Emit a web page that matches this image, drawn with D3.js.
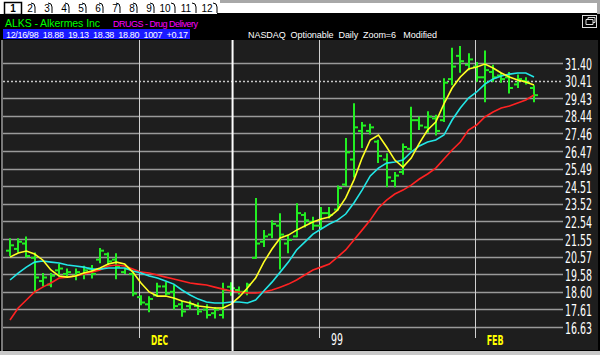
<!DOCTYPE html>
<html>
<head>
<meta charset="utf-8">
<script src="https://cdn.jsdelivr.net/npm/d3@7"></script>
<style>
body { margin: 0; background: #000; }
svg { display: block; font-family: "Liberation Sans", Arial, sans-serif; }
.narrow { font-family: "Liberation Sans Narrow", "DejaVu Sans Condensed", "Arial Narrow", sans-serif; }
</style>
</head>
<body>
<svg id="chart" width="600" height="355"></svg>
<script>
var tabs = ["1", "2", "3", "4", "5", "6", "7", "8", "9", "10", "11", "12"];

var symbolText = "ALKS - Alkermes Inc";
var groupText = "DRUGS - Drug Delivery";
var quoteText = "12/16/98  18.88  19.13  18.38  18.80  1007  +0.17";
var infoText = "NASDAQ  Optionable  Daily  Zoom=6   Modified";

var priceTicks = [31.40, 30.41, 29.43, 28.44, 27.46, 26.47, 25.49, 24.51, 23.52,
    22.54, 21.55, 20.57, 19.58, 18.60, 17.61, 16.63];

// daily bars, Nov 98 .. Feb 99
var opens = [20.9, 21.0, 21.3, 20.5, 19.2, 19.0, 19.8, 19.6, 19.5, 19.6, 19.9, 20.4, 20.7, 20.4, 19.7, 19.6,
    18.3, 17.9, 18.4, 18.9, 18.6, 17.9, 17.8, 17.8, 17.6, 17.4, 17.3, 18.88, 18.7, 18.6, 20.5, 21.4,
    21.8, 22.3, 21.3, 21.7, 22.9, 22.5, 22.3, 23.0, 23.2, 24.6, 26.0, 27.6, 27.6, 27.0, 26.0, 24.8,
    25.3, 26.6, 28.2, 27.8, 28.3, 28.2, 30.5, 31.8, 31.3, 31.2, 30.6, 30.9, 30.7, 30.6, 30.2, 30.4, 30.0];
var highs = [21.6, 21.6, 21.7, 20.8, 19.65, 19.65, 20.15, 19.9, 19.9, 20.05, 20.1, 21.05, 20.8, 20.75, 19.95, 19.7,
    18.4, 18.35, 19.1, 19.15, 19.0, 18.1, 18.1, 18.0, 17.9, 17.75, 19.1, 19.13, 18.9, 19.1, 23.85, 22.05,
    22.6, 23.0, 21.75, 23.55, 23.05, 22.8, 23.35, 23.35, 24.55, 27.2, 29.15, 28.1, 28.0, 27.1, 26.35, 25.3,
    26.9, 28.95, 28.4, 28.7, 28.5, 30.55, 32.25, 32.35, 31.95, 31.45, 32.1, 31.3, 30.85, 30.9, 30.75, 30.6, 30.15];
var lows = [20.6, 20.8, 20.5, 18.55, 18.9, 18.85, 19.45, 19.45, 19.25, 19.3, 19.35, 20.2, 20.1, 19.3, 19.6, 18.35,
    17.85, 17.45, 18.35, 18.4, 17.6, 17.2, 17.6, 17.3, 17.1, 17.1, 17.1, 18.38, 18.45, 18.4, 20.45, 21.1,
    21.6, 19.85, 20.75, 21.65, 22.2, 22.05, 22.15, 22.7, 23.15, 24.5, 25.0, 26.65, 27.4, 25.8, 24.45, 24.45,
    25.15, 26.5, 27.65, 27.5, 27.35, 28.1, 30.15, 30.85, 31.0, 30.35, 29.2, 30.35, 30.3, 29.7, 30.0, 30.2, 29.2];
var closes = [21.2, 21.4, 20.6, 19.4, 19.4, 19.5, 19.9, 19.7, 19.7, 19.8, 19.6, 20.9, 20.3, 20.0, 19.9, 18.5,
    18.0, 18.2, 18.9, 18.5, 17.8, 17.5, 17.9, 17.5, 17.3, 17.6, 18.7, 18.80, 18.6, 19.0, 21.3, 21.7,
    22.4, 21.8, 21.5, 23.0, 22.6, 22.3, 23.0, 22.9, 24.4, 26.4, 27.8, 27.9, 27.8, 26.2, 25.0, 25.1,
    26.7, 28.2, 27.9, 28.4, 27.6, 30.3, 31.2, 31.5, 31.6, 30.6, 31.0, 30.6, 30.5, 30.0, 30.5, 30.3, 29.6];

// moving averages
var maYellow = [20.54, 20.77, 20.88, 20.71, 20.38, 19.82, 19.48, 19.42, 19.48, 19.65, 19.76, 19.93, 20.15, 20.26, 20.15, 19.70,
    19.09, 18.59, 18.36, 18.36, 18.25, 18.08, 17.97, 17.80, 17.75, 17.69, 17.69, 17.91, 18.31, 18.81, 19.37, 20.26,
    20.99, 21.61, 21.77, 22.05, 22.28, 22.50, 22.67, 22.78, 23.17, 23.85, 24.85, 26.08, 27.09, 27.37, 26.70, 25.97,
    25.58, 26.08, 26.92, 27.65, 28.10, 29.11, 30.00, 30.62, 31.06, 31.18, 31.34, 31.12, 30.84, 30.62, 30.45, 30.34, 30.17];
var maCyan = [19.26, 19.65, 19.98, 20.26, 20.32, 20.26, 20.21, 20.10, 20.04, 19.98, 19.87, 19.87, 19.93, 19.93, 19.93, 19.76,
    19.65, 19.48, 19.37, 19.20, 19.03, 18.70, 18.42, 18.19, 18.03, 17.97, 17.97, 18.03, 18.03, 17.97, 18.14, 18.64,
    19.14, 19.70, 20.26, 20.94, 21.38, 21.83, 22.11, 22.39, 22.61, 22.95, 23.57, 24.29, 25.08, 25.52, 25.80, 25.86,
    25.97, 26.42, 26.76, 26.98, 27.09, 27.37, 28.21, 28.88, 29.44, 29.78, 30.22, 30.50, 30.67, 30.78, 30.84, 30.84, 30.62];
var maRed = [17.02, 17.69, 18.14, 18.59, 18.86, 19.09, 19.37, 19.42, 19.48, 19.59, 19.70, 19.82, 20.04, 20.10, 20.04, 19.87,
    19.70, 19.65, 19.54, 19.42, 19.31, 19.20, 19.09, 19.03, 18.98, 18.86, 18.75, 18.64, 18.59, 18.53, 18.53, 18.59,
    18.70, 18.86, 19.03, 19.26, 19.54, 19.82, 19.98, 20.15, 20.54, 20.94, 21.50, 22.05, 22.61, 23.29, 23.73, 24.07,
    24.29, 24.57, 24.91, 25.19, 25.52, 26.03, 26.53, 26.98, 27.65, 27.93, 28.38, 28.66, 28.88, 28.99, 29.16, 29.33, 29.61];

var monthLabels = ["DEC", "99", "FEB"];
var monthStart = [16, 38, 57];
var cursorIdx = 27;

var svg = d3.select("#chart");

var x = d3.scaleLinear().domain([0, opens.length - 1]).range([10, 534]);
var y = d3.scaleLinear().domain([16.63, 31.40]).range([327, 63]);

drawTabs();
drawHeader();
drawChart();

function drawTabs() {
    svg.append("rect").attr("width", 600).attr("height", 14).attr("fill", "#fff");
    svg.append("rect").attr("x", 220).attr("y", 0).attr("width", 377).attr("height", 3).attr("fill", "#a8a8a8");
    svg.append("rect").attr("x", 597).attr("y", 0).attr("width", 3).attr("height", 14).attr("fill", "#a8a8a8");

    var sep = 18;
    tabs.forEach(function(t, i) {
        if (i > 0) sep += (t.length == 1 ? 17 : 21);
        var cx = i == 0 ? 13 : sep - (t.length == 1 ? 5 : 10);
        if (i == 0) {
            svg.append("rect").attr("x", 4.5).attr("y", 2.5).attr("width", 17).attr("height", 12)
                .attr("fill", "#fff").attr("stroke", "#000").attr("stroke-width", 1.5);
        } else {
            svg.append("path")
                .attr("d", "M" + (sep - 4) + ",3 Q" + sep + ",3 " + sep + ",7 L" + sep + ",13")
                .attr("fill", "none").attr("stroke", "#000").attr("stroke-width", 1);
        }
        svg.append("text").attr("x", cx).attr("y", 12)
            .attr("text-anchor", "middle")
            .attr("font-size", 10)
            .attr("font-weight", i == 0 ? "bold" : "normal")
            .attr("fill", "#000")
            .text(t);
    });
    svg.append("line").attr("x1", sep).attr("x2", 597).attr("y1", 13.5).attr("y2", 13.5)
        .attr("stroke", "#000");
}

function drawHeader() {
    svg.append("rect").attr("y", 14).attr("width", 600).attr("height", 341).attr("fill", "#000");

    svg.append("text").attr("x", 5).attr("y", 27).attr("font-size", 10.5).attr("fill", "#00ff00")
        .attr("textLength", 95).text(symbolText);
    svg.append("text").attr("x", 113).attr("y", 27).attr("font-size", 9).attr("fill", "#ff00ff")
        .attr("textLength", 85).text(groupText);

    svg.append("rect").attr("x", 3).attr("y", 29).attr("width", 187).attr("height", 10).attr("fill", "#1a1aff");
    svg.append("text").attr("x", 6).attr("y", 37.5).attr("font-size", 9).attr("fill", "#fff")
        .attr("xml:space", "preserve").attr("textLength", 182).text(quoteText);
    svg.append("text").attr("x", 248).attr("y", 37.5).attr("font-size", 9).attr("fill", "#fff")
        .attr("xml:space", "preserve").attr("textLength", 189).text(infoText);

    // restore icon
    svg.append("rect").attr("x", 582.5).attr("y", 15.5).attr("width", 14).attr("height", 12)
        .attr("fill", "#000").attr("stroke", "#ddd");
    svg.append("path").attr("d", "M586,19.5 h7 v5 h-7 z M588,19.5 v-2 h7 v5 h-2")
        .attr("fill", "none").attr("stroke", "#ddd");
}

function drawChart() {
    svg.append("rect").attr("x", 3).attr("y", 40).attr("width", 595).attr("height", 310).attr("fill", "#1e1e1e");
    svg.append("line").attr("x1", 2).attr("x2", 2).attr("y1", 40).attr("y2", 351)
        .attr("stroke", "#a0a0a0").attr("stroke-width", 1.5);
    svg.append("rect").attr("x", 0).attr("y", 351).attr("width", 600).attr("height", 4).attr("fill", "#c8c8c8");

    var grid = svg.append("g");
    grid.selectAll("line").data(priceTicks).join("line")
        .attr("x1", 3).attr("x2", 563)
        .attr("y1", d => Math.round(y(d)) + 0.5).attr("y2", d => Math.round(y(d)) + 0.5)
        .attr("stroke", d => d == 30.41 ? "#c8c8c8" : "#9a9a9a")
        .attr("stroke-dasharray", d => d == 30.41 ? "2,2" : null)
        .attr("stroke-width", 1.5);
    // tall narrow price labels: squeeze the glyphs horizontally
    grid.selectAll("text").data(priceTicks).join("text")
        .attr("class", "narrow")
        .attr("transform", d => "translate(565," + (y(d) + 6.5) + ") scale(0.7,1)")
        .attr("font-size", 15).attr("fill", "#fff")
        .text(d => d.toFixed(2));

    // month dividers
    svg.append("g").selectAll("line").data(monthStart).join("line")
        .attr("x1", d => Math.round(x(d - 0.25)) + 0.5).attr("x2", d => Math.round(x(d - 0.25)) + 0.5)
        .attr("y1", 40).attr("y2", 338)
        .attr("stroke", "#d0d0d0").attr("stroke-width", 1);

    svg.append("g").selectAll("text").data(monthLabels).join("text")
        .attr("class", "narrow")
        .attr("x", (d, i) => x(monthStart[i] - 0.25) + 12)
        .attr("y", 345)
        .attr("font-size", (d, i) => i == 1 ? 16 : 14)
        .attr("font-weight", (d, i) => i == 1 ? "normal" : "bold")
        .attr("fill", (d, i) => i == 1 ? "#fff" : "#ffff00")
        .attr("textLength", (d, i) => i == 1 ? 12 : 17)
        .attr("lengthAdjust", "spacingAndGlyphs")
        .text(d => d);

    // OHLC bars
    var bars = svg.append("g").attr("stroke", "#22ee22").attr("stroke-width", 2);
    opens.forEach(function(o, i) {
        var bx = Math.round(x(i));
        bars.append("line").attr("x1", bx).attr("x2", bx)
            .attr("y1", y(highs[i])).attr("y2", y(lows[i]));
        bars.append("line").attr("x1", bx - 4).attr("x2", bx)
            .attr("y1", y(o)).attr("y2", y(o));
        bars.append("line").attr("x1", bx).attr("x2", bx + 4)
            .attr("y1", y(closes[i])).attr("y2", y(closes[i]));
    });

    var line = d3.line().x((d, i) => x(i)).y(d => y(d));
    [[maRed, "#ff2222"], [maCyan, "#22e6e6"], [maYellow, "#ffff22"]].forEach(function(s) {
        svg.append("path").datum(s[0])
            .attr("d", line)
            .attr("fill", "none")
            .attr("stroke", s[1])
            .attr("stroke-width", 1.6);
    });

    // cursor
    svg.append("line")
        .attr("x1", x(cursorIdx) + 1.5).attr("x2", x(cursorIdx) + 1.5)
        .attr("y1", 40).attr("y2", 351)
        .attr("stroke", "#fff").attr("stroke-width", 2);
}
</script>
</body>
</html>
